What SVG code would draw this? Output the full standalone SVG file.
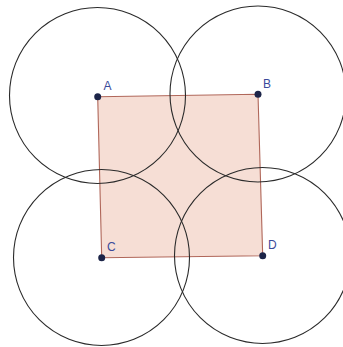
<svg xmlns="http://www.w3.org/2000/svg" width="343" height="347" viewBox="0 0 343 347">
<style>
.sq{fill:#f6ded5;stroke:#b0675a;stroke-width:1.1}
.c{fill:none;stroke:#2a2a2a;stroke-width:1.1}
.pt{fill:#1c2448}
.lb{font-family:"Liberation Sans",Arial,sans-serif;font-size:12px;fill:#3a4a9a}
</style>
<rect width="343" height="347" fill="#ffffff"/>
<g id="square">
<polygon class="sq" points="97.7,96.7 258,94.3 262.7,255.7 101.7,257.7"/>
</g>
<g id="circles">
<circle class="c" cx="97.5" cy="95.5" r="88"/>
<circle class="c" cx="258" cy="94" r="88"/>
<circle class="c" cx="101.5" cy="257.5" r="88"/>
<circle class="c" cx="262.5" cy="255.5" r="88"/>
</g>
<g id="A"><circle class="pt" cx="97.7" cy="96.7" r="3.5"/><text class="lb" x="103.5" y="90">A</text></g>
<g id="B"><circle class="pt" cx="258" cy="94.3" r="3.5"/><text class="lb" x="263" y="88">B</text></g>
<g id="C"><circle class="pt" cx="101.7" cy="257.7" r="3.5"/><text class="lb" x="107" y="251">C</text></g>
<g id="D"><circle class="pt" cx="262.7" cy="255.7" r="3.5"/><text class="lb" x="268" y="249">D</text></g>
</svg>
